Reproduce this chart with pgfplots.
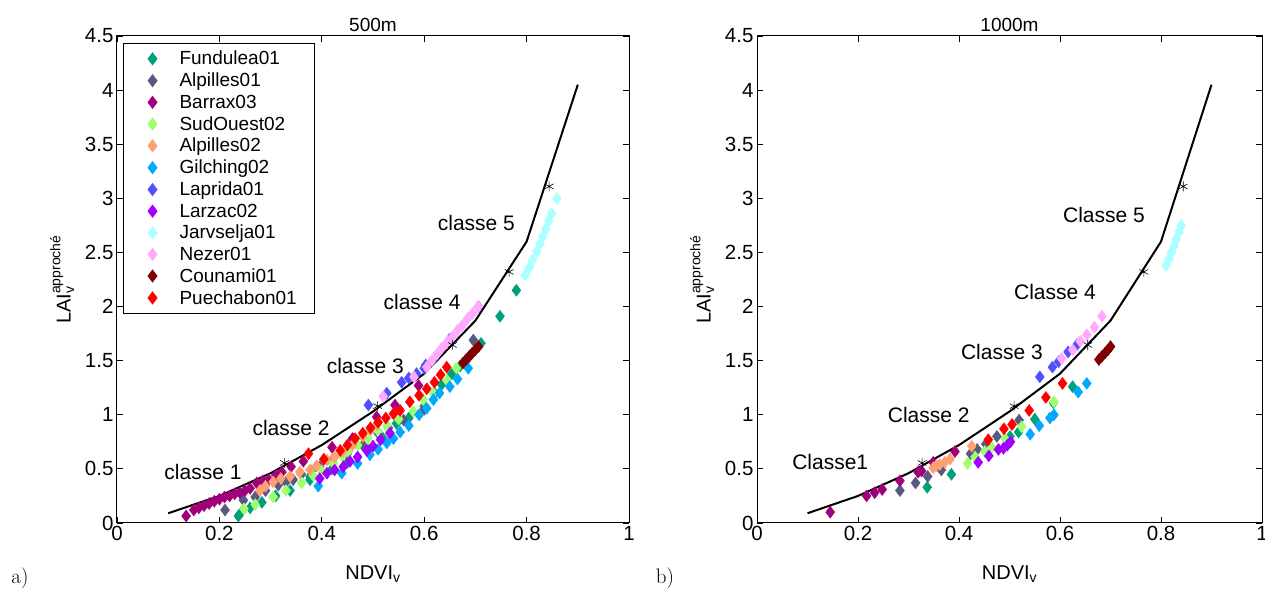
\documentclass[border=0pt]{standalone}
\usepackage{pgfplots}
\pgfplotsset{compat=1.18}
\usepackage{amsmath}
\usepackage{fontspec}
\setsansfont{Liberation Sans}
\definecolor{cFun}{RGB}{0,160,120}
\definecolor{cAl1}{RGB}{88,88,128}
\definecolor{cBar}{RGB}{160,0,122}
\definecolor{cSud}{RGB}{160,255,112}
\definecolor{cAl2}{RGB}{255,160,112}
\definecolor{cGil}{RGB}{0,168,255}
\definecolor{cLap}{RGB}{80,80,255}
\definecolor{cLar}{RGB}{160,0,255}
\definecolor{cJar}{RGB}{170,255,255}
\definecolor{cNez}{RGB}{255,170,255}
\definecolor{cCou}{RGB}{128,0,0}
\definecolor{cPue}{RGB}{255,0,0}
\tikzset{cls/.style={font=\sffamily\fontsize{21}{21}\selectfont}}
\pgfplotsset{
  ser/.style={only marks, mark=diamond*, mark size=6pt, color=#1, mark options={draw=#1, fill=#1}},
  mystyle/.style={
    scale only axis, height=487pt,
    xmin=0, xmax=1, ymin=0, ymax=4.5,
    xtick={0,0.2,0.4,0.6,0.8,1}, ytick={0,0.5,1,1.5,2,2.5,3,3.5,4,4.5},
    tick align=inside, major tick length=6pt,
    axis line style={line width=1pt}, tick style={line width=0.8pt, black},
    ticklabel style={font=\sffamily\fontsize{20.5}{20.5}\selectfont},
    /pgf/number format/assume math mode=true,
    xlabel={NDVI$_{\text{v}}$},
    ylabel={LAI$_{\text{v}}^{\text{approché}}$},
    label style={font=\sffamily\fontsize{20}{20}\selectfont},
    xlabel style={yshift=-18pt},
    ylabel style={yshift=4pt},
    title style={font=\sffamily\fontsize{19}{19}\selectfont, yshift=-5pt},
    clip=false,
  },
  curve/.style={black, line width=2pt, forget plot},
  stars/.style={only marks, mark=asterisk, mark size=5pt, black, mark options={line width=0.6pt}, forget plot},
}
\begin{document}
\begin{tikzpicture}
\useasboundingbox (-117pt,-70pt) rectangle (1148pt,523pt);
% ---------------- a) 500m
\begin{axis}[mystyle, width=512pt, title={500m},
  legend image code/.code={\path[draw=none,fill=none] (0pt,0pt) -- (38pt,0pt); \draw[#1] plot coordinates {(13pt,0pt)};},
  legend style={at={(0.012,0.986)}, anchor=north west, draw=black, line width=0.8pt,
    font=\sffamily\fontsize{19}{19}\selectfont, row sep=2.6pt, column sep=0pt, cells={anchor=west},
    inner xsep=16pt, inner ysep=6pt}]
\addplot[ser=cFun] coordinates {(0.237,0.065)(0.243,0.10)(0.26,0.14)(0.283,0.19)(0.31,0.25)(0.338,0.30)(0.377,0.40)(0.377,0.43)(0.42,0.50)(0.45,0.56)(0.49,0.68)(0.52,0.78)(0.546,0.92)(0.57,0.97)(0.60,1.08)(0.62,1.20)(0.634,1.28)(0.654,1.38)(0.67,1.45)(0.69,1.55)(0.711,1.66)(0.748,1.91)(0.78,2.15)};
\addlegendentry{Fundulea01}
\addplot[ser=cAl1] coordinates {(0.211,0.12)(0.247,0.21)(0.27,0.24)(0.29,0.30)(0.315,0.35)(0.33,0.38)(0.344,0.40)(0.36,0.45)(0.38,0.48)(0.396,0.52)(0.42,0.58)(0.45,0.64)(0.48,0.72)(0.51,0.83)(0.53,0.88)(0.56,0.95)(0.60,1.05)(0.696,1.69)};
\addlegendentry{Alpilles01}
\addplot[ser=cBar] coordinates {(0.135,0.065)(0.15,0.12)(0.16,0.14)(0.17,0.16)(0.18,0.18)(0.19,0.20)(0.20,0.22)(0.21,0.24)(0.22,0.25)(0.23,0.27)(0.24,0.28)(0.25,0.30)(0.26,0.32)(0.273,0.37)(0.285,0.39)(0.296,0.40)(0.31,0.44)(0.322,0.47)(0.34,0.52)(0.364,0.57)(0.42,0.70)(0.46,0.78)(0.507,0.98)(0.543,1.09)(0.589,1.27)};
\addlegendentry{Barrax03}
\addplot[ser=cSud] coordinates {(0.248,0.13)(0.27,0.17)(0.305,0.24)(0.33,0.30)(0.361,0.37)(0.383,0.44)(0.40,0.48)(0.423,0.55)(0.44,0.62)(0.452,0.66)(0.47,0.72)(0.49,0.78)(0.51,0.85)(0.527,0.90)(0.55,0.96)(0.579,1.03)(0.598,1.14)(0.618,1.20)(0.644,1.32)(0.663,1.43)};
\addlegendentry{SudOuest02}
\addplot[ser=cAl2] coordinates {(0.279,0.30)(0.29,0.34)(0.305,0.38)(0.32,0.41)(0.338,0.43)(0.357,0.47)(0.377,0.49)(0.39,0.53)(0.41,0.58)(0.425,0.61)(0.44,0.66)(0.46,0.72)(0.48,0.80)(0.495,0.86)(0.507,0.91)};
\addlegendentry{Alpilles02}
\addplot[ser=cGil] coordinates {(0.393,0.34)(0.439,0.46)(0.47,0.55)(0.494,0.63)(0.51,0.68)(0.527,0.74)(0.54,0.78)(0.553,0.84)(0.57,0.90)(0.59,1.00)(0.605,1.06)(0.618,1.14)(0.63,1.20)(0.65,1.26)(0.665,1.33)(0.686,1.43)};
\addlegendentry{Gilching02}
\addplot[ser=cLap] coordinates {(0.491,1.09)(0.527,1.20)(0.556,1.30)(0.57,1.34)(0.585,1.38)(0.6,1.43)(0.603,1.46)(0.65,1.70)(0.706,2.0)};
\addlegendentry{Laprida01}
\addplot[ser=cLar] coordinates {(0.396,0.41)(0.41,0.46)(0.425,0.49)(0.442,0.52)(0.455,0.57)(0.47,0.61)(0.488,0.67)(0.50,0.71)(0.515,0.77)(0.533,0.83)};
\addlegendentry{Larzac02}
\addplot[ser=cJar] coordinates {(0.797,2.29)(0.805,2.36)(0.812,2.43)(0.82,2.51)(0.826,2.58)(0.832,2.65)(0.838,2.72)(0.843,2.79)(0.849,2.86)(0.859,3.0)};
\addlegendentry{Jarvselja01}
\addplot[ser=cNez] coordinates {(0.52,1.17)(0.58,1.35)(0.605,1.44)(0.615,1.50)(0.625,1.56)(0.635,1.62)(0.645,1.67)(0.655,1.72)(0.665,1.78)(0.675,1.83)(0.685,1.89)(0.695,1.94)(0.706,2.0)};
\addlegendentry{Nezer01}
\addplot[ser=cCou] coordinates {(0.676,1.48)(0.682,1.51)(0.688,1.54)(0.694,1.57)(0.70,1.60)(0.706,1.63)};
\addlegendentry{Counami01}
\addplot[ser=cPue] coordinates {(0.374,0.64)(0.404,0.59)(0.436,0.67)(0.45,0.72)(0.465,0.78)(0.48,0.83)(0.495,0.88)(0.51,0.93)(0.525,0.97)(0.54,1.01)(0.553,1.04)(0.572,1.12)(0.59,1.18)(0.605,1.24)(0.62,1.30)(0.632,1.37)(0.644,1.44)};
\addlegendentry{Puechabon01}
\addplot[curve] coordinates {(0.1,0.09)(0.2,0.25)(0.3,0.46)(0.4,0.72)(0.5,1.03)(0.6,1.38)(0.7,1.87)(0.8,2.6)(0.9,4.05)};
\addplot[stars] coordinates {(0.327,0.555)(0.509,1.08)(0.655,1.645)(0.766,2.32)(0.844,3.11)};
\node[cls] at (axis cs:0.168,0.47) {classe 1};
\node[cls] at (axis cs:0.34,0.88) {classe 2};
\node[cls] at (axis cs:0.485,1.45) {classe 3};
\node[cls] at (axis cs:0.596,2.04) {classe 4};
\node[cls] at (axis cs:0.702,2.77) {classe 5};
\end{axis}
% ---------------- b) 1000m
\begin{axis}[mystyle, width=505pt, title={1000m}, at={(640pt,0pt)}]
\addplot[ser=cFun] coordinates {(0.337,0.33)(0.385,0.45)(0.501,0.80)(0.518,0.84)(0.55,0.96)(0.587,1.11)(0.625,1.26)};
\addplot[ser=cAl1] coordinates {(0.283,0.30)(0.314,0.37)(0.338,0.43)(0.365,0.49)(0.423,0.64)(0.436,0.68)(0.453,0.73)(0.475,0.80)(0.519,0.95)};
\addplot[ser=cBar] coordinates {(0.145,0.10)(0.217,0.25)(0.233,0.28)(0.248,0.31)(0.283,0.39)(0.319,0.47)(0.326,0.48)(0.349,0.56)(0.392,0.66)};
\addplot[ser=cSud] coordinates {(0.417,0.55)(0.432,0.61)(0.451,0.66)(0.465,0.70)(0.491,0.78)(0.524,0.89)(0.588,1.12)};
\addplot[ser=cAl2] coordinates {(0.349,0.51)(0.355,0.53)(0.362,0.54)(0.372,0.56)(0.382,0.59)(0.425,0.71)};
\addplot[ser=cGil] coordinates {(0.541,0.82)(0.559,0.90)(0.58,0.97)(0.588,1.00)(0.636,1.21)(0.653,1.29)};
\addplot[ser=cLap] coordinates {(0.56,1.35)(0.585,1.44)(0.597,1.49)(0.616,1.58)(0.634,1.65)};
\addplot[ser=cLar] coordinates {(0.438,0.56)(0.459,0.62)(0.478,0.68)(0.488,0.69)(0.496,0.72)(0.502,0.75)};
\addplot[ser=cJar] coordinates {(0.81,2.38)(0.816,2.44)(0.82,2.5)(0.826,2.56)(0.83,2.62)(0.836,2.69)(0.84,2.75)};
\addplot[ser=cNez] coordinates {(0.603,1.52)(0.625,1.60)(0.64,1.68)(0.653,1.74)(0.668,1.81)(0.683,1.91)};
\addplot[ser=cCou] coordinates {(0.677,1.51)(0.683,1.54)(0.689,1.57)(0.695,1.60)(0.70,1.63)};
\addplot[ser=cPue] coordinates {(0.458,0.77)(0.489,0.87)(0.505,0.91)(0.539,1.04)(0.572,1.16)(0.605,1.29)};
\addplot[curve] coordinates {(0.1,0.09)(0.2,0.25)(0.3,0.46)(0.4,0.72)(0.5,1.03)(0.6,1.38)(0.7,1.87)(0.8,2.6)(0.9,4.05)};
\addplot[stars] coordinates {(0.327,0.555)(0.509,1.08)(0.655,1.645)(0.766,2.32)(0.844,3.11)};
\node[cls] at (axis cs:0.145,0.56) {Classe1};
\node[cls] at (axis cs:0.34,1.0) {Classe 2};
\node[cls] at (axis cs:0.485,1.58) {Classe 3};
\node[cls] at (axis cs:0.59,2.13) {Classe 4};
\node[cls] at (axis cs:0.687,2.85) {Classe 5};
\end{axis}
\node[font=\fontsize{21}{21}\selectfont] at (-97pt,-55pt) {a)};
\node[font=\fontsize{21}{21}\selectfont] at (548pt,-55pt) {b)};
\end{tikzpicture}
\end{document}
